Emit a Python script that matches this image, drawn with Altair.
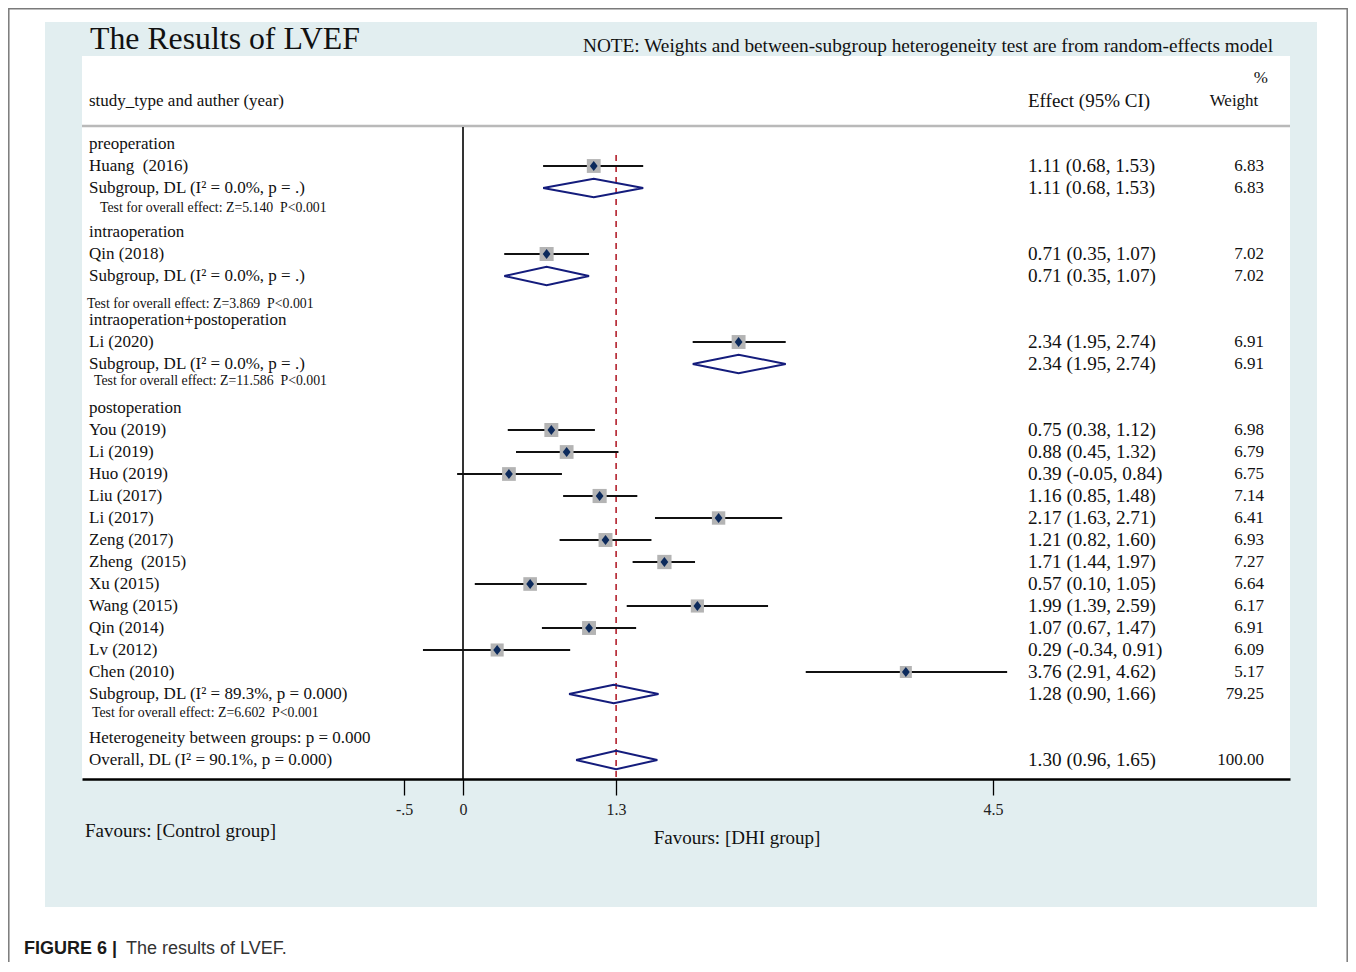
import altair as alt
import pandas as pd

# ------------------------------------------------------------------ data
group_names = ["preoperation", "intraoperation",
               "intraoperation+postoperation", "postoperation"]
group_rows = [0, 4, 8, 12]

study_labels = ["Huang\u00a0 (2016)", "Qin (2018)", "Li (2020)",
                "You (2019)", "Li (2019)", "Huo (2019)", "Liu (2017)",
                "Li (2017)", "Zeng (2017)", "Zheng\u00a0 (2015)", "Xu (2015)",
                "Wang (2015)", "Qin (2014)", "Lv (2012)", "Chen (2010)"]
study_rows = [1, 5, 9, 13, 14, 15, 16, 17, 18, 19, 20, 21, 22, 23, 24]
study_es = [1.11, 0.71, 2.34, 0.75, 0.88, 0.39, 1.16, 2.17, 1.21, 1.71,
            0.57, 1.99, 1.07, 0.29, 3.76]
study_lo = [0.68, 0.35, 1.95, 0.38, 0.45, -0.05, 0.85, 1.63, 0.82, 1.44,
            0.10, 1.39, 0.67, -0.34, 2.91]
study_hi = [1.53, 1.07, 2.74, 1.12, 1.32, 0.84, 1.48, 2.71, 1.60, 1.97,
            1.05, 2.59, 1.47, 0.91, 4.62]
study_wt = [6.83, 7.02, 6.91, 6.98, 6.79, 6.75, 7.14, 6.41, 6.93, 7.27,
            6.64, 6.17, 6.91, 6.09, 5.17]

pooled_labels = ["Subgroup, DL (I\u00b2 = 0.0%, p = .)",
                 "Subgroup, DL (I\u00b2 = 0.0%, p = .)",
                 "Subgroup, DL (I\u00b2 = 0.0%, p = .)",
                 "Subgroup, DL (I\u00b2 = 89.3%, p = 0.000)",
                 "Overall, DL (I\u00b2 = 90.1%, p = 0.000)"]
pooled_rows = [2, 6, 10, 25, 28]
pooled_es = [1.11, 0.71, 2.34, 1.28, 1.30]
pooled_lo = [0.68, 0.35, 1.95, 0.90, 0.96]
pooled_hi = [1.53, 1.07, 2.74, 1.66, 1.65]
pooled_wt = [6.83, 7.02, 6.91, 79.25, 100.00]

test_labels = ["Test for overall effect: Z=5.140\u00a0 P<0.001",
               "Test for overall effect: Z=3.869\u00a0 P<0.001",
               "Test for overall effect: Z=11.586\u00a0 P<0.001",
               "Test for overall effect: Z=6.602\u00a0 P<0.001"]
test_rows = [2.92, 7.27, 10.77, 25.86]

het_label = "Heterogeneity between groups: p = 0.000"
het_row = 27

tick_values = [-0.5, 0, 1.3, 4.5]
title_text = "The Results of LVEF"
note_text = ("NOTE: Weights and between-subgroup heterogeneity test are "
             "from random-effects model")

# ------------------------------------------------------------------ styles
W, H = 1208, 723
SERIF = "Liberation Serif"
test_dx = [18, 5, 12, 10]           # indentation of the test lines (px)
DIAMOND_HALF = 0.42                 # half height of pooled diamonds (rows)

xscale = alt.Scale(domain=[-3.2349, 7.0216], nice=False, zero=False)
yscale = alt.Scale(domain=[-4, 28.8636], nice=False, zero=False, reverse=True)
xaxis = alt.Axis(values=tick_values, title=None, grid=False,
                 domainColor="black", domainWidth=2.5,
                 tickColor="black", tickWidth=1.3, tickSize=16,
                 labelFont=SERIF, labelFontSize=16, labelColor="#222",
                 labelPadding=6, zindex=1,
                 labelExpr="datum.value == -0.5 ? '-.5' : "
                           "(datum.value == 0 ? '0' : format(datum.value, '.1f'))")


def X(field):
    return alt.X(field, type="quantitative", scale=xscale, axis=xaxis)


def Y(field="row"):
    return alt.Y(field, type="quantitative", scale=yscale, axis=None)


one = pd.DataFrame({"a": [0]})

# ------------------------------------------------------------------ tables
studies = pd.DataFrame({"row": study_rows, "es": study_es, "lo": study_lo,
                        "hi": study_hi, "wt": study_wt})

verts = []
for i, (r, e, l, h) in enumerate(zip(pooled_rows, pooled_es, pooled_lo, pooled_hi)):
    pts = [(l, r), (e, r - DIAMOND_HALF), (h, r), (e, r + DIAMOND_HALF), (l, r)]
    for k, (vx, vy) in enumerate(pts):
        verts.append({"id": i, "k": k, "vx": vx, "vy": vy})
diamonds = pd.DataFrame(verts)

labels = pd.DataFrame({
    "label": group_names + study_labels + pooled_labels + [het_label],
    "row": group_rows + study_rows + pooled_rows + [het_row],
})
effects = pd.DataFrame({
    "row": study_rows + pooled_rows,
    "eff": [f"{e:.2f} ({l:.2f}, {h:.2f})" for e, l, h in
            zip(study_es + pooled_es, study_lo + pooled_lo, study_hi + pooled_hi)],
    "wt": [f"{w:.2f}" for w in study_wt + pooled_wt],
})

# ------------------------------------------------------------------ layers
frame = alt.Chart(one).mark_rect(fill="white", fillOpacity=0, stroke="#7a7a7a",
                                 strokeWidth=1.5).encode(
    x=alt.value(-73.2), x2=alt.value(1265.2), y=alt.value(-47.2), y2=alt.value(1000))
panel = alt.Chart(one).mark_rect(fill="#e2eef0").encode(
    x=alt.value(-37), x2=alt.value(1235), y=alt.value(-34), y2=alt.value(851))
white = alt.Chart(one).mark_rect(fill="white").encode(
    x=alt.value(0), x2=alt.value(W), y=alt.value(0), y2=alt.value(H))
sep = alt.Chart(one).mark_rule(color="#b9b9b9", strokeWidth=2.5).encode(
    x=alt.value(0), x2=alt.value(W), y=alt.value(70))

zero_line = alt.Chart(pd.DataFrame({"x": [0.0]})).mark_rule(
    color="black", strokeWidth=1.6).encode(x=X("x"), y=alt.value(71), y2=alt.value(H))
ref_line = alt.Chart(pd.DataFrame({"x": [pooled_es[-1]]})).mark_rule(
    color="#b3202c", strokeWidth=1.6, strokeDash=[6, 5]).encode(
    x=X("x"), y=alt.value(99), y2=alt.value(H))

ci = alt.Chart(studies).mark_rule(color="#111", strokeWidth=2.2).encode(
    x=X("lo"), x2=alt.X2("hi"), y=Y())
boxes = alt.Chart(studies).mark_square(color="#b4b4b4", opacity=1).encode(
    x=X("es"), y=Y(),
    size=alt.Size("wt", type="quantitative", legend=None,
                  scale=alt.Scale(domain=[0, 7], range=[0, 196], zero=True)))
pts = alt.Chart(studies).mark_point(
    shape="M0,-1L0.78,0L0,1L-0.78,0Z", filled=True, color="#0c2a5c",
    size=100, opacity=1).encode(x=X("es"), y=Y())
dia = alt.Chart(diamonds).mark_line(color="#141c7c", strokeWidth=2,
                                    strokeJoin="miter").encode(
    x=X("vx"), y=Y("vy"), detail="id:N", order="k:Q")

lab = alt.Chart(labels).mark_text(align="left", baseline="middle", font=SERIF,
                                  fontSize=17, color="#111").encode(
    x=alt.value(7), y=Y(), text="label:N")
eff = alt.Chart(effects).mark_text(align="left", baseline="middle", font=SERIF,
                                   fontSize=19.2, color="#111").encode(
    x=alt.value(946), y=Y(), text="eff:N")
wts = alt.Chart(effects).mark_text(align="right", baseline="middle", font=SERIF,
                                   fontSize=17, color="#111").encode(
    x=alt.value(1182), y=Y(), text="wt:N")

tests = []
for t, r, dx in zip(test_labels, test_rows, test_dx):
    tests.append(alt.Chart(pd.DataFrame({"t": [t], "row": [r]})).mark_text(
        align="left", baseline="middle", font=SERIF, fontSize=13.8, color="#111"
    ).encode(x=alt.value(dx), y=Y(), text="t:N"))


def txt(s, x, y, size, align="left", font=SERIF, weight="normal", color="#111"):
    return alt.Chart(pd.DataFrame({"t": [s]})).mark_text(
        align=align, baseline="middle", font=font, fontSize=size,
        fontWeight=weight, color=color).encode(
        x=alt.value(x), y=alt.value(y), text="t:N")


texts = [
    txt(title_text, 8, -17, 31.8),
    txt(note_text, 1191, -10, 19.3, align="right"),
    txt("%", 1186, 22, 17, align="right"),
    txt("Weight", 1152, 45, 17, align="center"),
    txt("Effect (95% CI)", 946, 45, 19),
    txt("study_type and auther (year)", 7, 45, 17),
    txt("Favours: [Control group]", 3, 775, 19),
    txt("Favours: [DHI group]", 655, 782, 19, align="center"),
    txt("FIGURE 6 |", -58, 893, 18, font="Liberation Sans", weight="bold",
        color="#1a1a1a"),
    txt("The results of LVEF.", 44, 893, 18, font="Liberation Sans",
        color="#333"),
]

chart = alt.layer(
    frame, panel, white, sep, zero_line, ref_line, ci, boxes, pts, dia,
    lab, eff, wts, *tests, *texts
).properties(
    width=W, height=H,
    autosize=alt.AutoSizeParams(type="none"),
    padding={"left": 74, "top": 48, "right": 58, "bottom": 183},
    background="white",
).configure_view(stroke=None)

chart.save("out.html", embed_options={"renderer": "svg", "actions": False})
